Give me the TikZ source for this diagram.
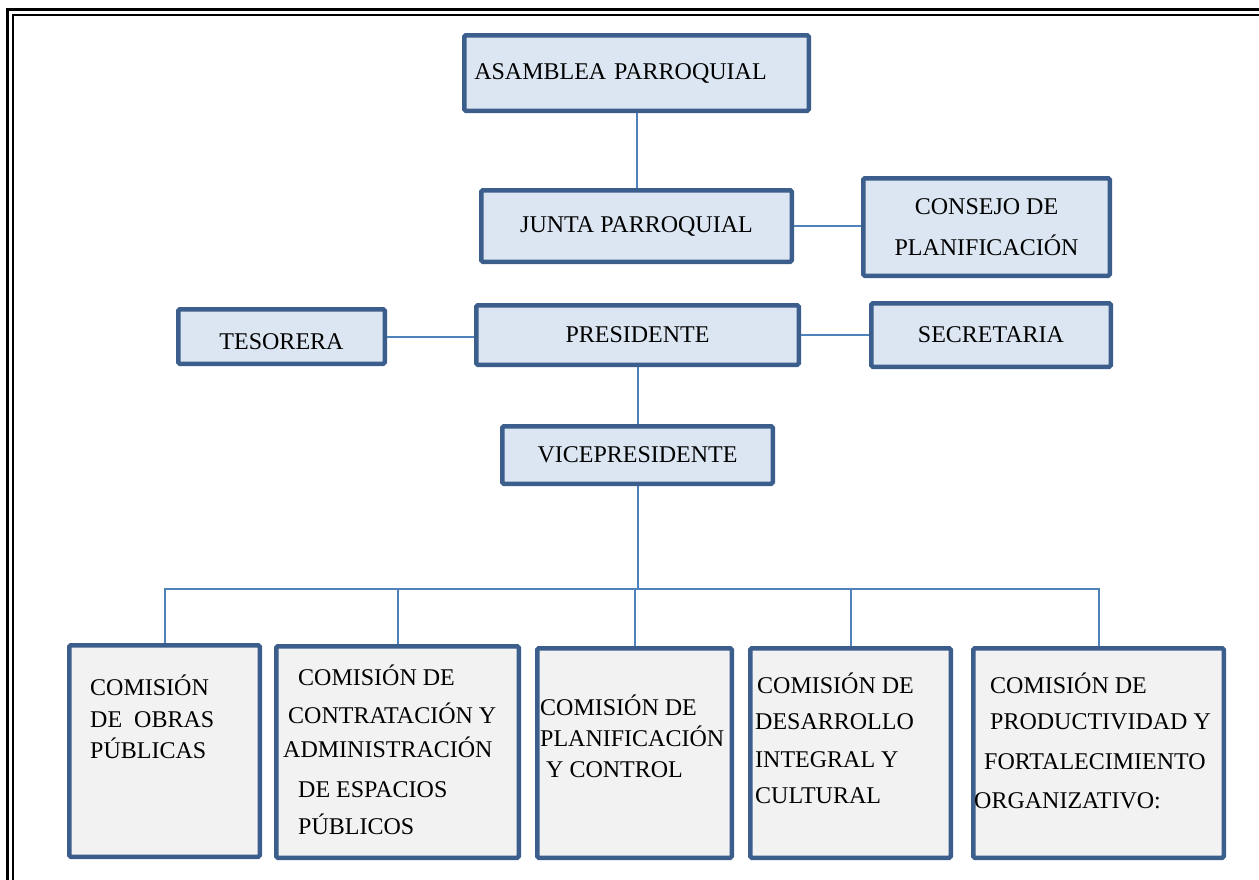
\documentclass[tikz,border=0pt]{standalone}
\usepackage{fontspec}
\setmainfont{Liberation Serif}
\definecolor{boxline}{HTML}{3B5E8C}
\definecolor{boxfill}{HTML}{DCE6F2}
\definecolor{comfill}{HTML}{F2F2F2}
\definecolor{linkline}{HTML}{4F81BD}

\begin{document}
\begin{tikzpicture}[x=1pt, y=-1pt,
        cargo/.style={draw=boxline, line width=4.5pt, fill=boxfill, rounded corners=1.5pt,
            inner sep=0pt, font=\fontsize{24}{31}\selectfont},
        comision/.style={cargo, fill=comfill},
        texto/.style={inner sep=0pt, align=left, anchor=base west, font=\fontsize{24}{31}\selectfont},
        enlace/.style={draw=linkline, line width=2pt}]
        \useasboundingbox (0,0) rectangle (1259,879);
        \clip (0,0) rectangle (1259,879);
        \draw[line width=2.5pt] (7.5,9.5) rectangle (1300,920);
        \draw[line width=2pt] (12.5,14.5) rectangle (1300,920);

        \node[cargo, minimum width=344.5pt, minimum height=75.5pt, inner xsep=10pt,
            text width=324.5pt, align=left] (asam) at (636.5, 73) {ASAMBLEA PARROQUIAL};
        \node[cargo, minimum width=310.5pt, minimum height=71.5pt] (junta)   at (636.5, 226) {JUNTA PARROQUIAL};
        \node[cargo, minimum width=246.5pt, minimum height=97.5pt, align=center] (consejo) at (986.5, 227)
            {CONSEJO DE\\[10pt]PLANIFICACIÓN};
        \node[cargo, minimum width=206.5pt, minimum height=54.5pt, text height=25pt, text depth=0pt]
            (teso) at (281.5, 336.5) {TESORERA};
        \node[cargo, minimum width=322.5pt, minimum height=59.5pt] (pres)    at (637.5, 335) {PRESIDENTE};
        \node[cargo, minimum width=239.5pt, minimum height=63.5pt] (secr)    at (991, 335)   {SECRETARIA};
        \node[cargo, minimum width=270.5pt, minimum height=57.5pt] (vice)    at (637.5, 455) {VICEPRESIDENTE};

        \node[comision, minimum width=190.5pt, minimum height=211.5pt] (c1) at (164.5, 751) {};
        \node[comision, minimum width=242.5pt, minimum height=211.5pt] (c2) at (397.5, 752) {};
        \node[comision, minimum width=194.5pt, minimum height=209.5pt] (c3) at (634.5, 753) {};
        \node[comision, minimum width=200.5pt, minimum height=209.5pt] (c4) at (850.5, 753) {};
        \node[comision, minimum width=250.5pt, minimum height=209.5pt] (c5) at (1098.5, 753) {};

        % base = baseline of the last line
        \node[texto] (t1) at (90, 758) {COMISIÓN\\[1pt]DE~~OBRAS\\PÚBLICAS};
        \node[texto] (t2) at (283, 834) {\hspace{15pt}COMISIÓN DE\\[7pt]\hspace{5pt}CONTRATACIÓN Y\\[3pt]ADMINISTRACIÓN\\[9pt]\hspace{15pt}DE ESPACIOS\\[6pt]\hspace{15pt}PÚBLICOS};
        \node[texto] (t3) at (540, 777) {COMISIÓN DE\\PLANIFICACIÓN\\\hspace{6pt}Y CONTROL};
        \node[texto] (t4) at (755, 803) {\hspace{2pt}COMISIÓN DE\\[5pt]DESARROLLO\\[7pt]INTEGRAL Y\\[5pt]CULTURAL};
        \node[texto] (t5) at (974, 808) {\hspace{16pt}COMISIÓN DE\\[5pt]\hspace{16pt}PRODUCTIVIDAD Y\\[9pt]\hspace{10pt}FORTALECIMIENTO\\[8pt]ORGANIZATIVO:};

        \coordinate (bus) at (637, 589);
        \draw[enlace] (asam) -- (junta);
        \draw[enlace] (junta.east) -- (consejo.west |- junta.east);
        \draw[enlace] (teso.east) -- (pres.west |- teso.east);
        \draw[enlace] (pres) -- (secr);
        \draw[enlace] (pres) -- (vice);
        \draw[enlace] (vice.south) -- (vice.south |- bus);
        \draw[enlace] (c1.north) |- (bus) -| (c5.north);
        \foreach \c in {c2,c3,c4}
            \draw[enlace] (\c.north) -- (\c.north |- bus);
\end{tikzpicture}
\end{document}
